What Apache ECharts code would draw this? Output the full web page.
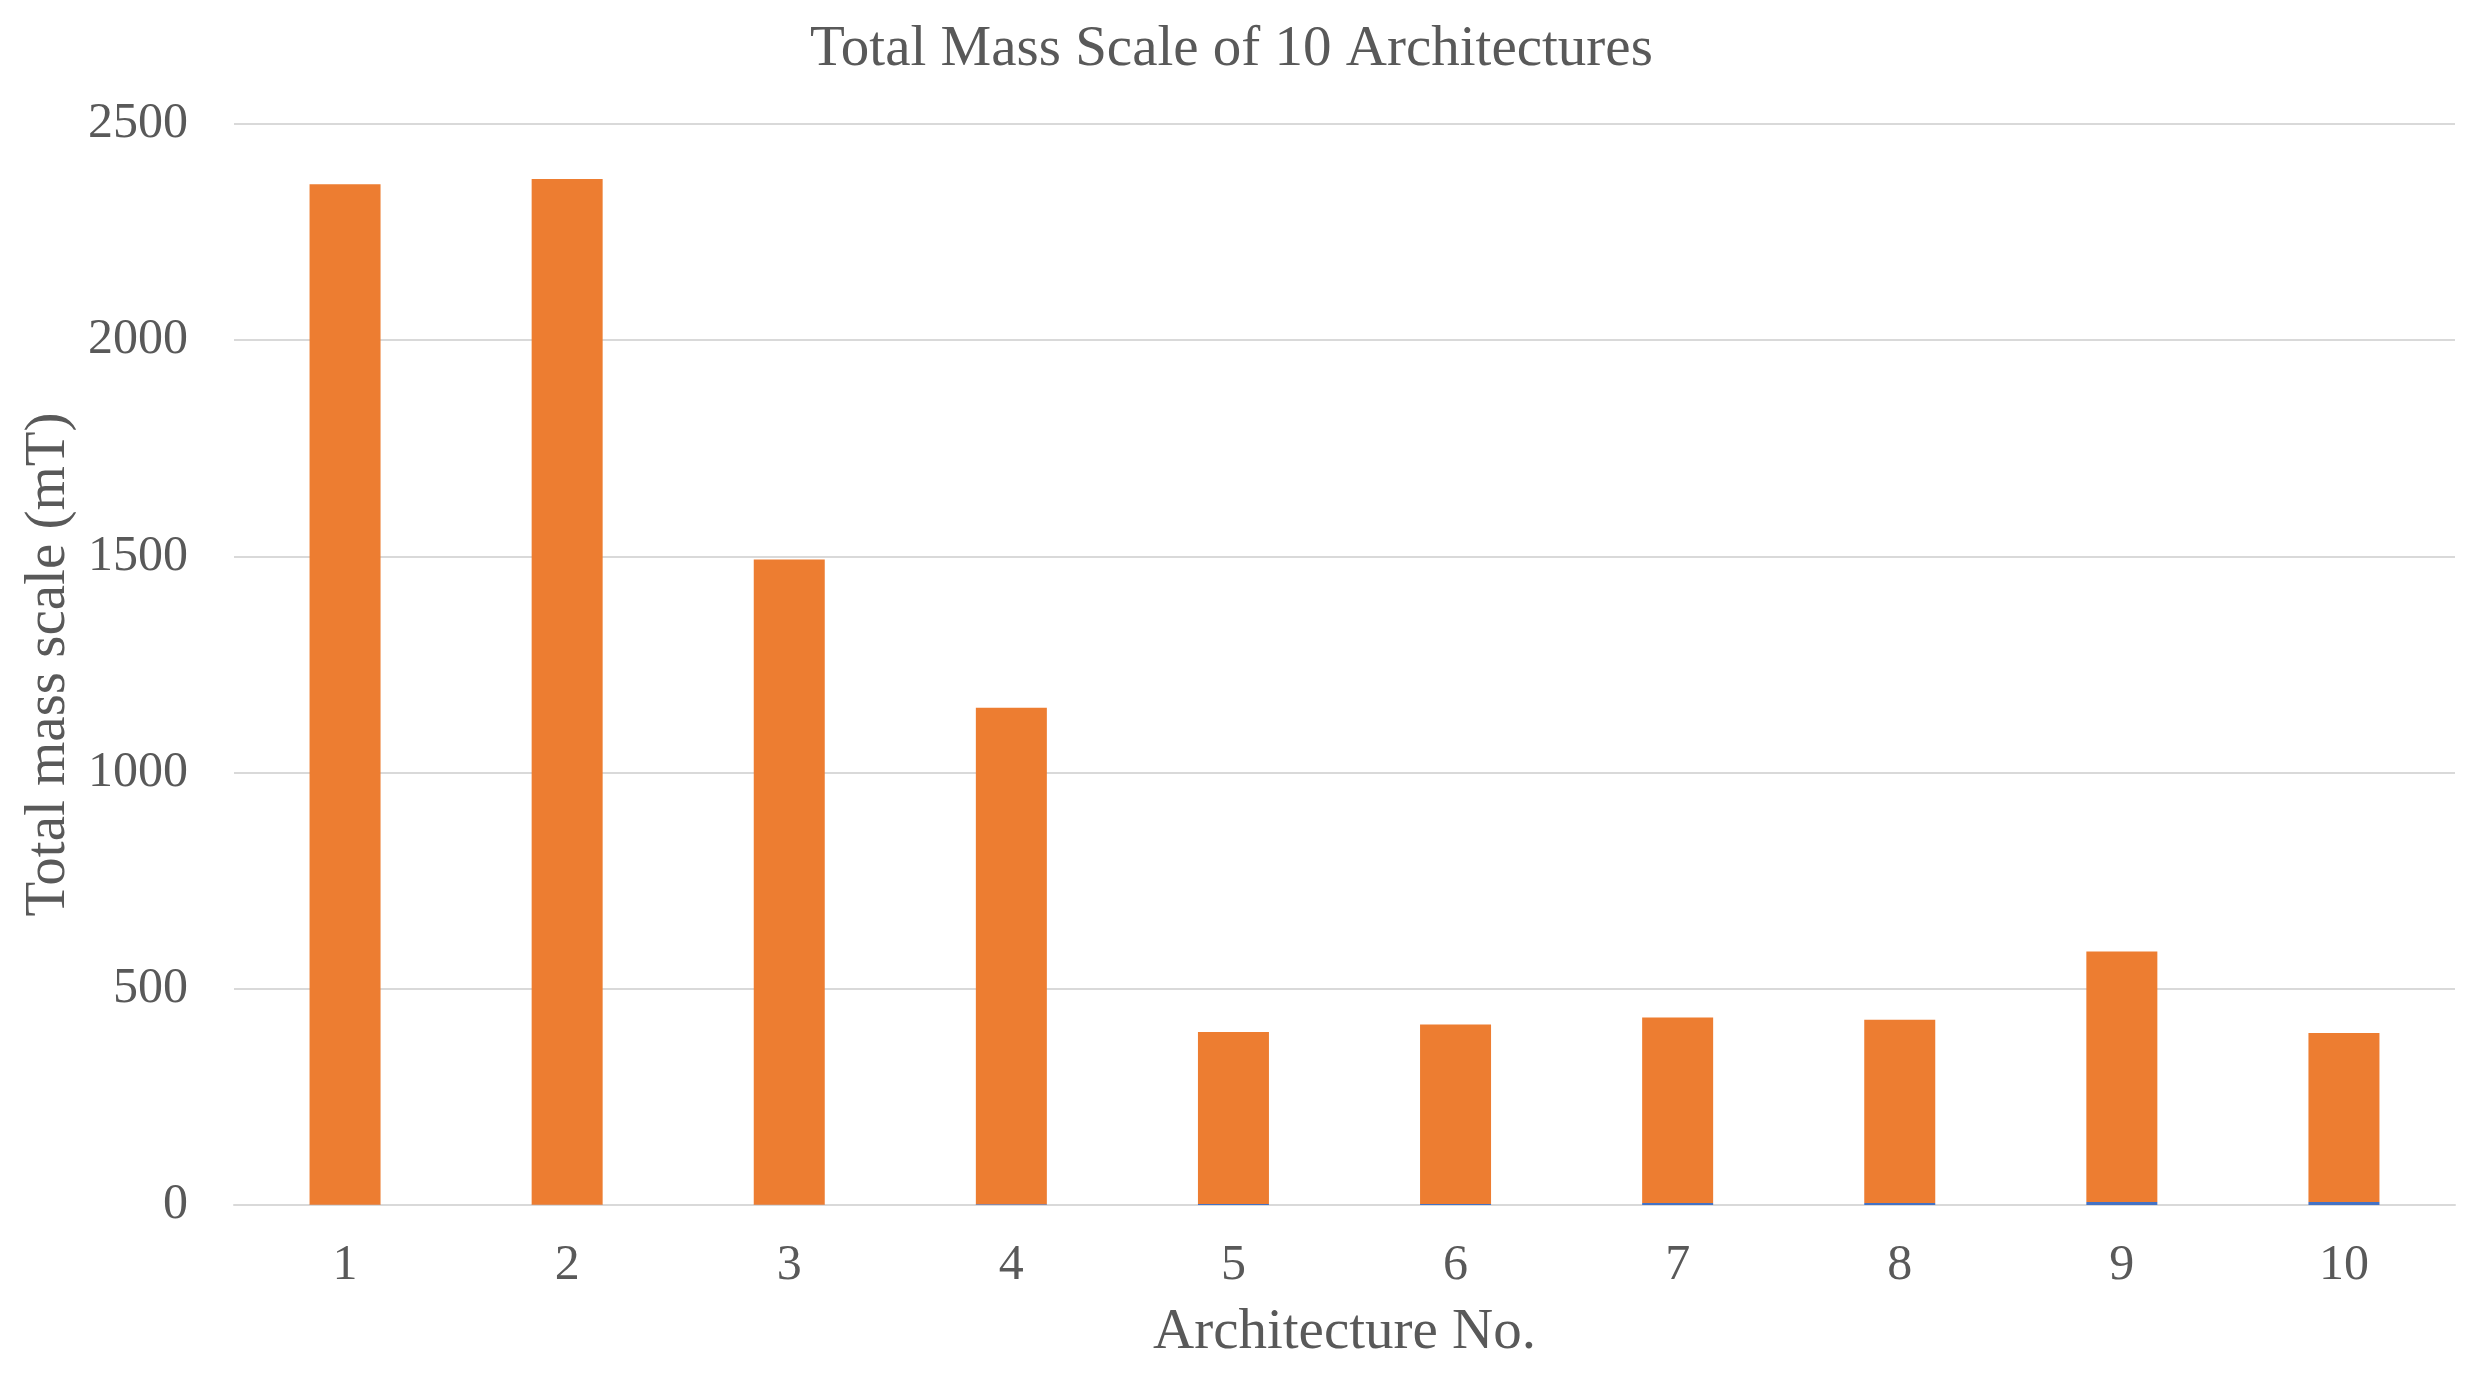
<!DOCTYPE html>
<html>
<head>
<meta charset="utf-8">
<script src="https://cdn.jsdelivr.net/npm/echarts@6/dist/echarts.min.js"></script>
<style>
html,body{margin:0;padding:0;background:#fff;}
#chart{width:2487px;height:1379px;}
</style>
</head>
<body>
<div id="chart"></div>
<script>
const categories = ['1','2','3','4','5','6','7','8','9','10'];
const blueValues = [0.5, 0.6, 0.8, 2, 2.3, 2.4, 4.5, 4.6, 7, 7];
const orangeValues = [2360, 2372, 1492, 1148, 398, 415, 429, 424, 579, 391];
const yTicks = [0, 500, 1000, 1500, 2000, 2500];

const FONT = '"Liberation Serif", "Times New Roman", serif';
const TXT = '#595959';

const chart = echarts.init(document.getElementById('chart'));
chart.setOption({
  backgroundColor: '#ffffff',
  animation: false,
  title: {
    text: 'Total Mass Scale of 10 Architectures',
    left: 805,
    top: 17,
    textStyle: {fontFamily: FONT, fontSize: 57, fontWeight: 'normal', color: TXT}
  },
  grid: {left: 234, right: 32, top: 124, bottom: 174, containLabel: false},
  xAxis: {
    type: 'category',
    data: categories,
    name: 'Architecture No.',
    nameLocation: 'middle',
    nameGap: 100,
    nameTextStyle: {fontFamily: FONT, fontSize: 57, color: TXT},
    axisLine: {lineStyle: {color: '#D9D9D9', width: 2}},
    axisTick: {show: false},
    axisLabel: {fontFamily: FONT, fontSize: 50, color: TXT, margin: 36}
  },
  yAxis: {
    type: 'value',
    min: yTicks[0],
    max: yTicks[yTicks.length - 1],
    interval: yTicks[1] - yTicks[0],
    name: 'Total mass scale (mT)',
    nameLocation: 'middle',
    nameGap: 144,
    nameTextStyle: {fontFamily: FONT, fontSize: 57, color: TXT},
    axisLine: {show: false},
    axisTick: {show: false},
    splitLine: {lineStyle: {color: '#D9D9D9', width: 2}},
    axisLabel: {fontFamily: FONT, fontSize: 50, color: TXT, margin: 46, formatter: function (v) { return String(v); }}
  },
  series: [
    {
      name: 'Blue',
      type: 'bar',
      stack: 'total',
      barWidth: 71,
      data: blueValues,
      itemStyle: {color: '#4472C4'}
    },
    {
      name: 'Orange',
      type: 'bar',
      stack: 'total',
      barWidth: 71,
      data: orangeValues,
      itemStyle: {color: '#ED7D31'}
    }
  ]
});
</script>
</body>
</html>
